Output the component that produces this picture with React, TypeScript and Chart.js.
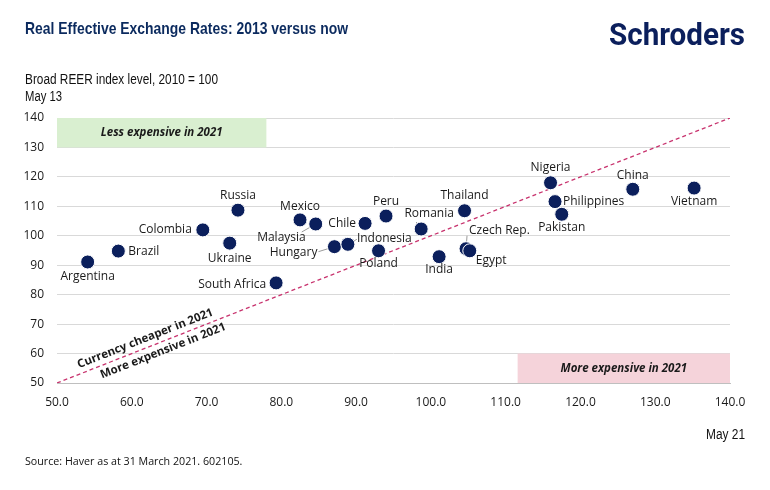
import React, { useEffect, useRef } from 'react';
import { Chart, registerables } from 'chart.js';

Chart.register(...registerables);

// ---- data ----
const countries = [
  'Argentina', 'Brazil', 'Colombia', 'Ukraine', 'Russia', 'South Africa', 'Mexico', 'Malaysia',
  'Hungary', 'Indonesia', 'Chile', 'Peru', 'Poland', 'Romania', 'India', 'Thailand',
  'Czech Rep.', 'Egypt', 'Nigeria', 'Philippines', 'Pakistan', 'China', 'Vietnam',
];
// x: May 21 REER level
const reerMay21 = [
  54.1, 58.2, 69.5, 73.1, 74.2, 79.3, 82.5, 84.6,
  87.1, 88.9, 91.2, 94.0, 93.0, 98.7, 101.1, 104.5,
  104.7, 105.2, 116.0, 116.6, 117.5, 127.0, 135.2,
];
// y: May 13 REER level
const reerMay13 = [
  91.1, 94.8, 102.0, 97.5, 108.7, 84.0, 105.4, 104.0,
  96.3, 97.1, 104.2, 106.7, 94.9, 102.3, 92.9, 108.5,
  95.6, 94.9, 118.0, 111.6, 107.3, 115.8, 116.2,
];
const axisMin = 50;
const axisMax = 140;
const axisStep = 10;
const parityLine = [50, 140];
const lessBox = { x0: 50, x1: 78, y0: 130, y1: 140 };
const moreBox = { x0: 111.6, x1: 140, y0: 50, y1: 60 };

// ---- label placement (pixels relative to point) ----
type Place = { a: 'left' | 'right' | 'center'; dx: number; dy: number; lx?: number; ly?: number };
const placement: Place[] = [
  { a: 'center', dx: 0, dy: 15 },           // Argentina
  { a: 'left', dx: 10, dy: 0 },             // Brazil
  { a: 'right', dx: -11, dy: 0 },           // Colombia
  { a: 'center', dx: 0, dy: 15 },           // Ukraine
  { a: 'center', dx: 0, dy: -15 },          // Russia
  { a: 'right', dx: -10, dy: 2 },           // South Africa
  { a: 'center', dx: 0, dy: -13 },          // Mexico
  { a: 'right', dx: -10, dy: 14, lx: -14, ly: 8 },   // Malaysia
  { a: 'right', dx: -17, dy: 6, lx: -16, ly: 5 },    // Hungary
  { a: 'left', dx: 9, dy: -6, lx: 9, ly: -5 },       // Indonesia
  { a: 'right', dx: -9, dy: 0 },            // Chile
  { a: 'center', dx: 0, dy: -14 },          // Peru
  { a: 'center', dx: 0, dy: 13 },           // Poland
  { a: 'center', dx: 8, dy: -15, lx: -5, ly: -7 },   // Romania
  { a: 'center', dx: 0, dy: 13 },           // India
  { a: 'center', dx: 0, dy: -15 },          // Thailand
  { a: 'left', dx: 3, dy: -18, lx: 1, ly: -13 },     // Czech Rep.
  { a: 'left', dx: 6, dy: 10 },             // Egypt
  { a: 'center', dx: 0, dy: -15 },          // Nigeria
  { a: 'left', dx: 8, dy: 0 },              // Philippines
  { a: 'center', dx: 0, dy: 13 },           // Pakistan
  { a: 'center', dx: 0, dy: -14 },          // China
  { a: 'center', dx: 0, dy: 14 },           // Vietnam
];

const NAVY = '#0b1f5c';
const NARROW = '"Liberation Sans Narrow", "Liberation Sans", Arial, sans-serif';
const OPEN = '"Open Sans", "Noto Sans", sans-serif';

// draw text horizontally squeezed to a target width (left-aligned at x)
function fitText(ctx: any, text: string, x: number, y: number, width: number, align: 'left' | 'right' = 'left') {
  const w = ctx.measureText(text).width;
  const k = Math.min(1.2, width / w);
  ctx.save();
  ctx.textAlign = 'left';
  ctx.translate(align === 'left' ? x : x - width, y);
  ctx.scale(k, 1);
  ctx.fillText(text, 0, 0);
  ctx.restore();
}

const decorPlugin = {
  id: 'decor',
  beforeDatasetsDraw(chart: any) {
    const { ctx, scales } = chart;
    const xs = scales.x, ys = scales.y;
    ctx.save();
    const drawBox = (b: any, fill: string, text: string) => {
      const l = xs.getPixelForValue(b.x0), r = xs.getPixelForValue(b.x1);
      const t = ys.getPixelForValue(b.y1), btm = ys.getPixelForValue(b.y0);
      ctx.fillStyle = fill;
      ctx.fillRect(l, t, r - l, btm - t);
      ctx.fillStyle = '#1a1a1a';
      ctx.font = `italic bold 11.5px ${OPEN}`;
      ctx.textAlign = 'center';
      ctx.textBaseline = 'middle';
      ctx.fillText(text, (l + r) / 2, (t + btm) / 2);
    };
    drawBox(lessBox, '#d9efd0', 'Less expensive in 2021');
    drawBox(moreBox, '#f5d3da', 'More expensive in 2021');
    ctx.strokeStyle = '#9a9a9a';
    ctx.lineWidth = 1;
    placement.forEach((p, i) => {
      if (p.lx === undefined) return;
      const px = xs.getPixelForValue(reerMay21[i]);
      const py = ys.getPixelForValue(reerMay13[i]);
      ctx.beginPath();
      ctx.moveTo(px, py);
      ctx.lineTo(px + p.lx, py + (p.ly || 0));
      ctx.stroke();
    });
    ctx.restore();
  },
  afterDatasetsDraw(chart: any) {
    const { ctx, scales } = chart;
    const xs = scales.x, ys = scales.y;
    ctx.save();
    ctx.fillStyle = '#1a1a1a';
    ctx.font = `12px ${OPEN}`;
    ctx.textBaseline = 'middle';
    countries.forEach((c, i) => {
      const p = placement[i];
      const px = xs.getPixelForValue(reerMay21[i]);
      const py = ys.getPixelForValue(reerMay13[i]);
      ctx.textAlign = p.a;
      ctx.fillText(c, px + p.dx, py + p.dy);
    });
    const x0 = xs.getPixelForValue(axisMin), y0 = ys.getPixelForValue(axisMin);
    const x1 = xs.getPixelForValue(axisMax), y1 = ys.getPixelForValue(axisMax);
    const ang = Math.atan2(y1 - y0, x1 - x0);
    const ax = xs.getPixelForValue(63);
    const ay = ys.getPixelForValue(63);
    ctx.font = `bold 11.5px ${OPEN}`;
    ctx.textAlign = 'center';
    ctx.fillStyle = '#1a1a1a';
    const put = (t: string, along: number, off: number) => {
      ctx.save();
      ctx.translate(ax + along * Math.cos(ang) - off * Math.sin(ang), ay + along * Math.sin(ang) + off * Math.cos(ang));
      ctx.rotate(ang);
      ctx.fillText(t, 0, 0);
      ctx.restore();
    };
    put('Currency cheaper in 2021', -6, -9);
    put('More expensive in 2021', 6, 9);
    ctx.restore();
  },
  afterDraw(chart: any) {
    const { ctx } = chart;
    ctx.save();
    ctx.textBaseline = 'middle';
    ctx.fillStyle = '#0b2a5e';
    ctx.font = `bold 17px ${NARROW}`;
    fitText(ctx, 'Real Effective Exchange Rates: 2013 versus now', 25, 29, 323);
    ctx.fillStyle = '#111';
    ctx.font = `14px ${NARROW}`;
    fitText(ctx, 'Broad REER index level, 2010 = 100', 25, 80, 193);
    fitText(ctx, 'May 13', 25, 97, 37);
    fitText(ctx, 'May 21', 745, 435, 39, 'right');
    ctx.textAlign = 'left';
    ctx.font = `10.7px ${OPEN}`;
    ctx.fillText('Source: Haver as at 31 March 2021. 602105.', 25, 462);
    ctx.fillStyle = NAVY;
    ctx.font = `bold 31px Roboto, "Liberation Sans", sans-serif`;
    fitText(ctx, 'Schroders', 609, 37, 136);
    ctx.restore();
  },
};

export default function App() {
  const ref = useRef<HTMLCanvasElement>(null);
  useEffect(() => {
    document.body.style.margin = '0';
    const canvas = ref.current!;
    const chart = new Chart(canvas, {
      type: 'scatter',
      data: {
        datasets: [
          {
            label: 'Countries',
            data: countries.map((_, i) => ({ x: reerMay21[i], y: reerMay13[i] })),
            backgroundColor: NAVY,
            borderColor: '#ffffff',
            borderWidth: 1,
            pointRadius: 7,
            pointHoverRadius: 7,
          },
          {
            label: 'Parity',
            type: 'line',
            data: parityLine.map((v) => ({ x: v, y: v })),
            borderColor: '#c8336e',
            borderWidth: 1.3,
            borderDash: [4, 3],
            pointRadius: 0,
            fill: false,
          } as any,
        ],
      },
      options: {
        responsive: false,
        animation: false,
        devicePixelRatio: 1,
        layout: { padding: { top: 118, right: 40, bottom: 0, left: 0 } },
        plugins: { legend: { display: false }, tooltip: { enabled: false } },
        scales: {
          x: {
            type: 'linear',
            min: axisMin,
            max: axisMax,
            ticks: {
              stepSize: axisStep,
              padding: 12,
              color: '#1a1a1a',
              font: { family: OPEN, size: 12 },
              callback: (v: any) => Number(v).toFixed(1),
            },
            grid: { display: false, drawTicks: false },
            border: { display: true, color: '#bfbfbf' },
            afterFit: (s: any) => { s.height = 107; },
          },
          y: {
            type: 'linear',
            min: axisMin,
            max: axisMax,
            ticks: {
              stepSize: axisStep,
              padding: 13,
              color: '#1a1a1a',
              font: { family: OPEN, size: 12 },
            },
            grid: { color: '#d9d9d9', drawTicks: false },
            border: { display: false },
            afterFit: (s: any) => { s.width = 57; },
          },
        },
      },
      plugins: [decorPlugin],
    });
    return () => chart.destroy();
  }, []);
  return (
    <div style={{ width: 770, height: 490, position: 'relative', background: '#fff' }}>
      <canvas ref={ref} width={770} height={490} style={{ display: 'block' }} />
    </div>
  );
}
